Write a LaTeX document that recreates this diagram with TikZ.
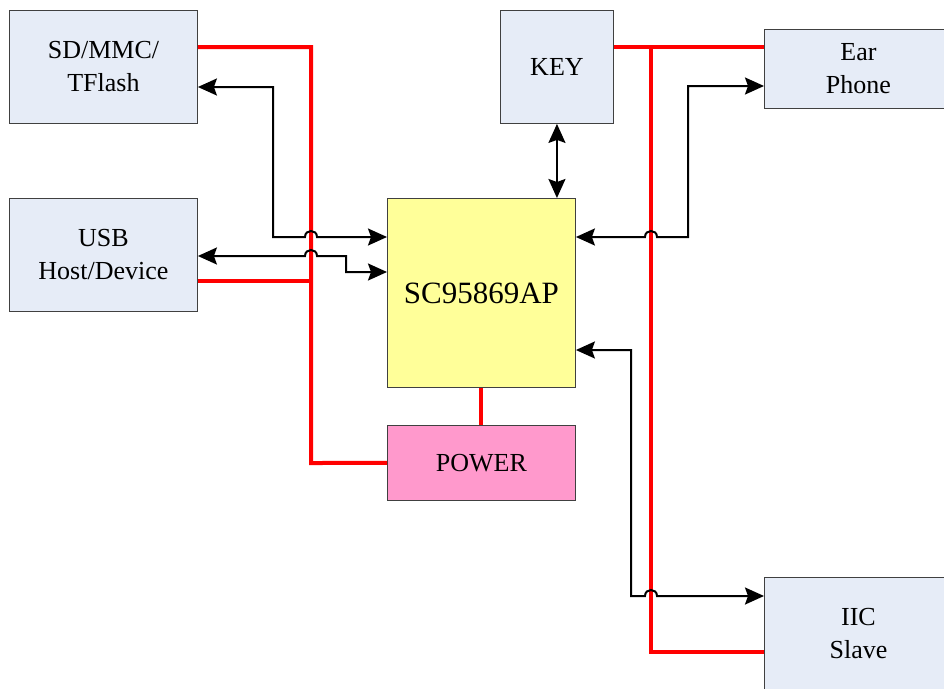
\documentclass[tikz,border=0pt]{standalone}
\usepackage{fontspec}
\setmainfont{Liberation Serif}
\usetikzlibrary{arrows.meta}
\definecolor{boxblue}{RGB}{230,236,247}
\definecolor{chipyellow}{RGB}{255,255,153}
\definecolor{pwrpink}{RGB}{255,153,204}
\definecolor{edgegrey}{RGB}{64,64,64}
\definecolor{pwrred}{RGB}{255,0,0}
\tikzset{
  blk/.style={draw=edgegrey, line width=0.9pt, fill=boxblue, anchor=north west,
    align=center, inner sep=0pt, font=\fontsize{26}{33}\selectfont},
  pwr/.style={draw=pwrred, line width=4pt},
  sig/.style={draw=black, line width=2pt, arrows={Stealth[length=19pt,width=17pt,inset=3pt]-Stealth[length=19pt,width=17pt,inset=3pt]}},
}
\begin{document}
\begin{tikzpicture}[x=1pt,y=-1pt]
\useasboundingbox (0,0) rectangle (944,688);
\clip (0,0) rectangle (944,688);
\fill[white] (0,0) rectangle (944,688);

\node[blk, minimum width=188pt, minimum height=113pt] (sd) at (9,10) {SD/MMC/\\TFlash};
\node[blk, minimum width=188pt, minimum height=113pt] (usb) at (9,198) {USB\\Host/Device};
\node[blk, minimum width=113pt, minimum height=113pt] (key) at (500,10) {KEY};
\node[blk, minimum width=188pt, minimum height=79pt] (ear) at (764,29) {Ear\\Phone};
\node[blk, fill=chipyellow, minimum width=188pt, minimum height=189pt, font=\fontsize{31}{37}\selectfont] (sc) at (387,198) {SC95869AP};
\node[blk, fill=pwrpink, minimum width=188pt, minimum height=75pt] (power) at (387,425) {POWER};
\node[blk, minimum width=188pt, minimum height=113pt] (iic) at (764,577) {IIC\\Slave};

% power (red) lines
\draw[pwr] (sd.east |- 0,47) -- (311,47) -- (311,463) -- (power.west);
\draw[pwr] (usb.east |- 0,281) -- (311,281);
\draw[pwr] (sc.south) -- (power.north);
\draw[pwr] (key.east |- 0,47) -- (ear.west |- 0,47);
\draw[pwr] (651,47) -- (651,652) -- (iic.west |- 0,652);

% signal (black) lines with jumps
\draw[sig] (sd.east |- 0,87) -- (273,87) -- (273,237) -- (305,237)
  .. controls (305,229) and (317,229) .. (317,237) -- (sc.west |- 0,237);
\draw[sig] (usb.east |- 0,256) -- (305,256)
  .. controls (305,248) and (317,248) .. (317,256) -- (346,256) -- (346,272) -- (sc.west |- 0,272);
\draw[sig] (key.south) -- (key.south |- sc.north);
\draw[sig] (sc.east |- 0,237) -- (645,237)
  .. controls (645,229) and (657,229) .. (657,237) -- (688,237) -- (688,86) -- (ear.west |- 0,86);
\draw[sig] (sc.east |- 0,350) -- (631,350) -- (631,596) -- (645,596)
  .. controls (645,588) and (657,588) .. (657,596) -- (iic.west |- 0,596);
\end{tikzpicture}
\end{document}
